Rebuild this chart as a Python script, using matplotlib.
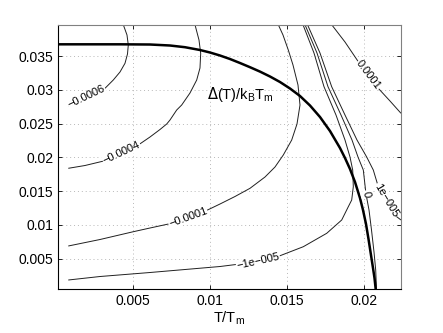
import matplotlib
matplotlib.use("Agg")
import matplotlib.pyplot as plt

plt.rcParams['font.family'] = ['Liberation Sans', 'DejaVu Sans']

# Gap curve Delta(T)/k_B T_m vs T/T_m
gap_T = [0.000158, 0.004177, 0.006121, 0.007418, 0.008390, 0.009362, 0.010011, 0.010659, 0.011307,
         0.011955, 0.012604, 0.013252, 0.013900, 0.014548, 0.015197, 0.015845, 0.016493, 0.017141,
         0.017789, 0.018437, 0.018762, 0.019086, 0.019410, 0.019733, 0.019929, 0.020123, 0.020285,
         0.020446, 0.020577, 0.020674, 0.020752]
gap_D = [0.036733, 0.036733, 0.036704, 0.036556, 0.036304, 0.035889, 0.035519, 0.035074, 0.034556,
         0.033963, 0.033341, 0.032689, 0.031963, 0.031148, 0.030185, 0.029074, 0.027667, 0.025963,
         0.023889, 0.021370, 0.019889, 0.018259, 0.016333, 0.013963, 0.012185, 0.010111, 0.007889,
         0.005519, 0.003593, 0.002111, 0.000437]

# Contour lines (level: T values, Delta values)
c_m0006_T = [0.000825, 0.001973, 0.003204, 0.003742, 0.004177, 0.004501, 0.004663, 0.004715, 0.004631, 0.004391]
c_m0006_D = [0.027593, 0.028852, 0.030215, 0.031444, 0.032630, 0.033919, 0.035296, 0.036630, 0.038111, 0.039637]

c_m0004_T = [0.000825, 0.001908, 0.003204, 0.004306, 0.005363, 0.006121, 0.006769, 0.007204, 0.007418,
             0.007852, 0.008176, 0.008714, 0.009149, 0.009362, 0.009408, 0.009298, 0.009038]
c_m0004_D = [0.018363, 0.018778, 0.019489, 0.020630, 0.021815, 0.023000, 0.024111, 0.024926, 0.025519,
             0.027000, 0.027741, 0.029519, 0.031444, 0.033222, 0.035400, 0.037370, 0.039637]

c_m0001_T = [0.000825, 0.002880, 0.005039, 0.006121, 0.007528, 0.008585, 0.009622, 0.010659, 0.011631,
             0.012604, 0.013576, 0.014224, 0.014762, 0.015307, 0.015650, 0.015845, 0.015715, 0.015391,
             0.015086, 0.014743, 0.014438]
c_m0001_D = [0.006852, 0.007815, 0.008970, 0.009519, 0.010215, 0.011074, 0.011933, 0.013074, 0.014185,
             0.015400, 0.017074, 0.018556, 0.020333, 0.022556, 0.024926, 0.027741, 0.030704, 0.033667,
             0.035889, 0.038111, 0.039637]

c_m1e5_T = [0.016039, 0.016752, 0.017401, 0.018178, 0.018762, 0.019086, 0.019261, 0.019300, 0.019196,
            0.018976, 0.018548, 0.017576, 0.016059, 0.014334, 0.011955, 0.010659, 0.006121, 0.002880, 0.000825]
c_m1e5_D = [0.039637, 0.035444, 0.030452, 0.026259, 0.022556, 0.020037, 0.018111, 0.015637, 0.013667,
            0.012674, 0.010704, 0.008733, 0.006748, 0.005222, 0.004185, 0.003815, 0.002926, 0.002333, 0.001815]

c_0_T = [0.016169, 0.016947, 0.017660, 0.018503, 0.019216, 0.019605, 0.019948, 0.020123, 0.020318,
         0.020480, 0.020642, 0.020752, 0.020803]
c_0_D = [0.039637, 0.035444, 0.030452, 0.026259, 0.022556, 0.020037, 0.018111, 0.014556, 0.012185,
         0.009222, 0.005963, 0.003296, 0.000437]

c_p1e5_T = [0.016331, 0.017141, 0.017899, 0.018762, 0.019539, 0.020168, 0.020596, 0.020920, 0.021464, 0.022113, 0.022392]
c_p1e5_D = [0.039637, 0.035444, 0.030452, 0.026259, 0.022556, 0.020037, 0.018111, 0.015637, 0.013667, 0.011193, 0.010704]

c_p0001_T = [0.017899, 0.018762, 0.019624, 0.020253, 0.020920, 0.021679, 0.022392]
c_p0001_D = [0.039637, 0.037074, 0.034156, 0.032185, 0.030215, 0.028333, 0.026511]

contours = [(c_m0006_T, c_m0006_D), (c_m0004_T, c_m0004_D), (c_m0001_T, c_m0001_D),
            (c_m1e5_T, c_m1e5_D), (c_0_T, c_0_D), (c_p1e5_T, c_p1e5_D), (c_p0001_T, c_p0001_D)]

# Contour labels: text, T, Delta, rotation
label_texts = ['\u22120.0006', '\u22120.0004', '\u22120.0001', '\u22121e\u2212005', '0', '1e\u2212005', '0.0001']
label_T = [0.002005, 0.004287, 0.008585, 0.013122, 0.020123, 0.021464, 0.020272]
label_D = [0.028926, 0.020630, 0.011074, 0.004630, 0.014556, 0.013667, 0.032185]
label_rot = [25.6, 25.2, 19.8, 12.7, -78, -59, -53]

xticks = [0.005, 0.01, 0.015, 0.02]
xticklabels = ['0.005', '0.01', '0.015', '0.02']
yticks = [0.005, 0.01, 0.015, 0.02, 0.025, 0.03, 0.035]
yticklabels = ['0.005', '0.01', '0.015', '0.02', '0.025', '0.03', '0.035']

fig = plt.figure(figsize=(4.43, 3.33), dpi=100)
ax = fig.add_axes([0.1309, 0.1312, 0.7743, 0.7946])

for T, D in contours:
    ax.plot(T, D, color='#202020', lw=0.7, solid_capstyle='butt')

ax.plot(gap_T, gap_D, color='black', lw=1.8, solid_joinstyle='round')

for txt, x, y, r in zip(label_texts, label_T, label_D, label_rot):
    ax.text(x, y, txt, fontsize=8, rotation=r, rotation_mode='anchor',
            ha='center', va='center',
            bbox=dict(facecolor='white', edgecolor='none', pad=0.3))

ax.text(0.00982, 0.02863, r'$\Delta$(T)/k$_\mathregular{B}$T$_\mathregular{m}$', fontsize=10.5,
        ha='left', va='baseline')

ax.set_xlim(0.000158, 0.022392)
ax.set_ylim(0.000437, 0.039637)
ax.set_xticks(xticks)
ax.set_xticklabels(xticklabels, fontsize=10)
ax.set_yticks(yticks)
ax.set_yticklabels(yticklabels, fontsize=10)
ax.grid(True, color='#b8b8b8', linestyle=(0, (1, 3)), lw=0.7)
ax.tick_params(direction='in', length=3, width=0.6, top=True, right=True)
for s in ['left', 'bottom']:
    ax.spines[s].set_color('black')
    ax.spines[s].set_linewidth(0.8)
for s in ['top', 'right']:
    ax.spines[s].set_color('#808080')
    ax.spines[s].set_linewidth(0.8)
ax.set_xlabel(r'T/T$_\mathregular{m}$', fontsize=10.5, labelpad=1)

fig.savefig('out.png', dpi=100)
